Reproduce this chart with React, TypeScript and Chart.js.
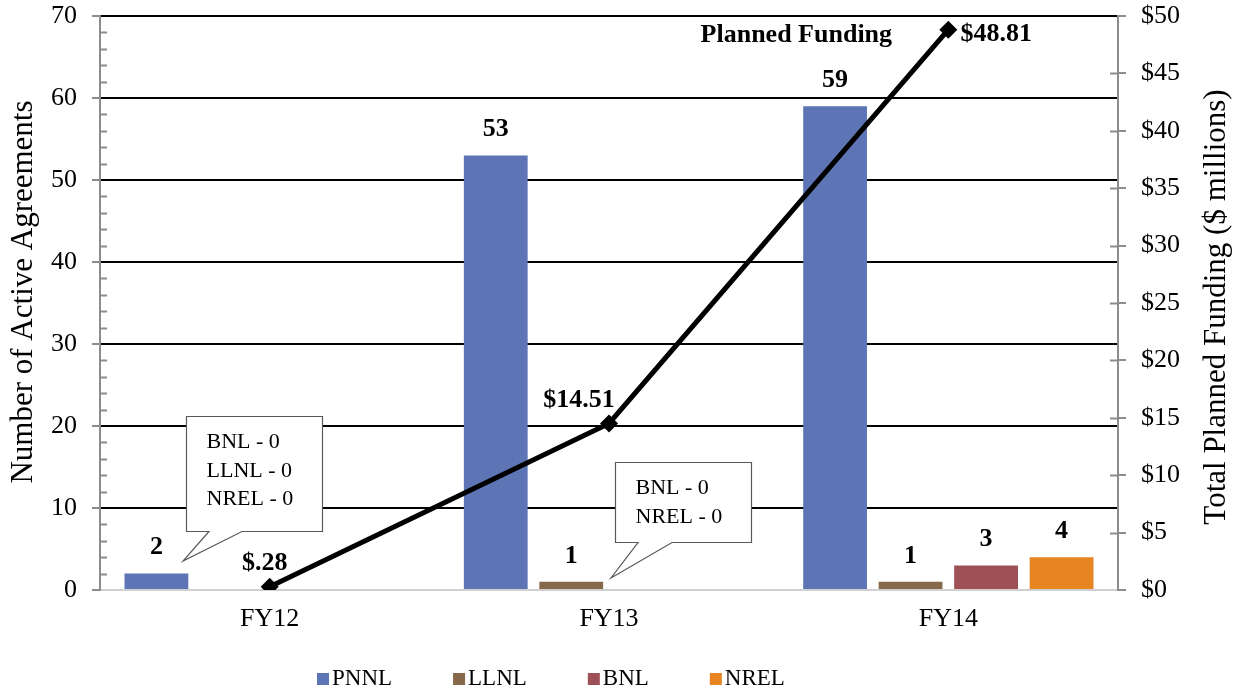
import React, { useEffect, useRef } from "react";
import { Chart, registerables } from "chart.js";

Chart.register(...registerables);

const categories = ["FY12", "FY13", "FY14"];
const seriesNames = ["PNNL", "LLNL", "BNL", "NREL"];
const pnnl = [2, 53, 59];
const llnl = [0, 1, 1];
const bnl = [0, 0, 3];
const nrel = [0, 0, 4];
const seriesColors = ["#5E75B5", "#86684A", "#9D5055", "#E68522"];
const plannedFunding = [0.28, 14.51, 48.81];
const fundingLabels = ["$.28", "$14.51", "$48.81"];
const fundingName = "Planned Funding";
const callout1Lines = ["BNL - 0", "LLNL - 0", "NREL - 0"];
const callout2Lines = ["BNL - 0", "NREL - 0"];
const leftTitle = "Number of Active Agreements";
const rightTitle = "Total Planned Funding ($ millions)";

const SERIF = "'Liberation Serif', 'Times New Roman', serif";
const AXIS_GRAY = "#8c8c8c";

const overlayPlugin = {
  id: "overlay",
  afterDatasetsDraw(chart: any) {
    const ctx = chart.ctx as CanvasRenderingContext2D;
    const area = chart.chartArea;
    const yL = chart.scales.y;
    const yR = chart.scales.y1;
    ctx.save();

    // minor ticks inside left axis
    ctx.strokeStyle = AXIS_GRAY;
    ctx.lineWidth = 2;
    for (let v = 0; v <= 70; v += 2) {
      if (v % 10 === 0) continue;
      const py = Math.round(yL.getPixelForValue(v)) + 0.5;
      ctx.beginPath();
      ctx.moveTo(area.left, py);
      ctx.lineTo(area.left + 7, py);
      ctx.stroke();
    }
    // inside ticks right axis
    for (let v = 5; v < 50; v += 5) {
      const py = Math.round(yR.getPixelForValue(v)) + 0.5;
      ctx.beginPath();
      ctx.moveTo(area.right - 8, py);
      ctx.lineTo(area.right, py);
      ctx.stroke();
    }

    // bar value labels
    ctx.fillStyle = "#000";
    ctx.font = `bold 26px ${SERIF}`;
    ctx.textAlign = "center";
    ctx.textBaseline = "middle";
    for (let i = 0; i < 4; i++) {
      const meta = chart.getDatasetMeta(i);
      const data = chart.data.datasets[i].data as number[];
      meta.data.forEach((bar: any, j: number) => {
        if (!data[j]) return;
        ctx.fillText(String(data[j]), bar.x, bar.y - 26);
      });
    }

    // line labels
    const lineMeta = chart.getDatasetMeta(4);
    const offs = [
      [-5, -24],
      [-30, -23],
      [48, 5],
    ];
    lineMeta.data.forEach((pt: any, j: number) => {
      ctx.fillText(fundingLabels[j], pt.x + offs[j][0], pt.y + offs[j][1]);
    });
    const last = lineMeta.data[2];
    ctx.fillText(fundingName, last.x - 152, last.y + 6);

    // callouts
    const drawCallout = (
      bx: number,
      by: number,
      bw: number,
      bh: number,
      b1: number,
      b2: number,
      tx: number,
      ty: number,
      lines: string[]
    ) => {
      ctx.beginPath();
      ctx.moveTo(bx, by);
      ctx.lineTo(bx + bw, by);
      ctx.lineTo(bx + bw, by + bh);
      ctx.lineTo(b2, by + bh);
      ctx.lineTo(tx, ty);
      ctx.lineTo(b1, by + bh);
      ctx.lineTo(bx, by + bh);
      ctx.closePath();
      ctx.fillStyle = "#fff";
      ctx.fill();
      ctx.strokeStyle = "#595959";
      ctx.lineWidth = 1.2;
      ctx.stroke();
      ctx.fillStyle = "#000";
      ctx.font = `22px ${SERIF}`;
      ctx.textAlign = "left";
      ctx.textBaseline = "middle";
      lines.forEach((ln, k) => {
        ctx.fillText(ln, bx + 20, by + 26 + k * 28.5);
      });
    };
    drawCallout(186.5, 416.5, 136, 115, 209, 242, 183, 561, callout1Lines);
    drawCallout(615.5, 462.5, 136, 80, 638, 672, 611, 578, callout2Lines);

    // legend
    ctx.font = `23px ${SERIF}`;
    ctx.textBaseline = "middle";
    ctx.textAlign = "left";
    let lx = 317;
    const ly = 679;
    seriesNames.forEach((name, k) => {
      ctx.fillStyle = seriesColors[k];
      ctx.fillRect(lx, ly - 6, 12, 12);
      ctx.fillStyle = "#000";
      ctx.fillText(name, lx + 15, ly);
      lx += 15 + ctx.measureText(name).width + 61;
    });

    // axis titles
    ctx.font = `31px ${SERIF}`;
    ctx.textAlign = "center";
    ctx.save();
    ctx.translate(24, 292);
    ctx.rotate(-Math.PI / 2);
    ctx.fillText(leftTitle, 0, 0);
    ctx.restore();
    ctx.save();
    ctx.translate(1217, 307);
    ctx.rotate(-Math.PI / 2);
    ctx.fillText(rightTitle, 0, 0);
    ctx.restore();

    ctx.restore();
  },
};

export default function App() {
  const ref = useRef<HTMLCanvasElement>(null);
  useEffect(() => {
    document.body.style.margin = "0";
    const canvas = ref.current!;
    const barSets = [pnnl, llnl, bnl, nrel].map((d, k) => ({
      type: "bar" as const,
      label: seriesNames[k],
      data: d,
      backgroundColor: seriesColors[k],
      borderWidth: 0,
      yAxisID: "y",
      order: 2,
      categoryPercentage: 0.89,
      barPercentage: 0.845,
    }));
    const chart = new Chart(canvas, {
      type: "bar",
      data: {
        labels: categories,
        datasets: [
          ...barSets,
          {
            type: "line" as const,
            label: fundingName,
            data: plannedFunding,
            borderColor: "#000",
            backgroundColor: "#000",
            borderWidth: 5,
            pointStyle: "rectRot",
            pointRadius: 9,
            pointBorderWidth: 0,
            yAxisID: "y1",
            order: 0,
            tension: 0,
          } as any,
        ],
      },
      options: {
        responsive: false,
        animation: false,
        layout: { padding: { top: 16, left: 0, right: 0, bottom: 0 } },
        plugins: {
          legend: { display: false },
          tooltip: { enabled: false },
          title: { display: false },
        },
        scales: {
          x: {
            grid: { display: false, drawTicks: false },
            border: { color: "#d0d0d0", width: 2 },
            ticks: {
              color: "#000",
              font: { family: SERIF, size: 26 },
              padding: 14,
            },
            afterFit: (s: any) => {
              s.height = 102;
            },
          },
          y: {
            position: "left",
            min: 0,
            max: 70,
            ticks: {
              stepSize: 10,
              color: "#000",
              font: { family: SERIF, size: 26 },
              padding: 15,
            },
            grid: {
              color: (c: any) => (c.tick && c.tick.value === 0 ? "rgba(0,0,0,0)" : "#000"),
              lineWidth: 2,
              tickColor: AXIS_GRAY,
              tickLength: 8,
              drawTicks: true,
            },
            border: { color: AXIS_GRAY, width: 2 },
            afterFit: (s: any) => {
              s.width = 100;
              s.paddingTop = 0;
              s.paddingBottom = 0;
            },
          },
          y1: {
            position: "right",
            min: 0,
            max: 50,
            ticks: {
              stepSize: 5,
              color: "#000",
              font: { family: SERIF, size: 26 },
              padding: 15,
              callback: (v: any) => "$" + v,
            },
            grid: {
              drawOnChartArea: false,
              tickColor: AXIS_GRAY,
              tickLength: 8,
              lineWidth: 2,
            },
            border: { color: AXIS_GRAY, width: 2 },
            afterFit: (s: any) => {
              s.width = 126;
              s.paddingTop = 0;
              s.paddingBottom = 0;
            },
          },
        },
      } as any,
      plugins: [overlayPlugin],
    });
    return () => chart.destroy();
  }, []);
  return (
    <div style={{ width: 1244, height: 692, background: "#fff" }}>
      <canvas ref={ref} width={1244} height={692} style={{ width: 1244, height: 692, display: "block" }} />
    </div>
  );
}
